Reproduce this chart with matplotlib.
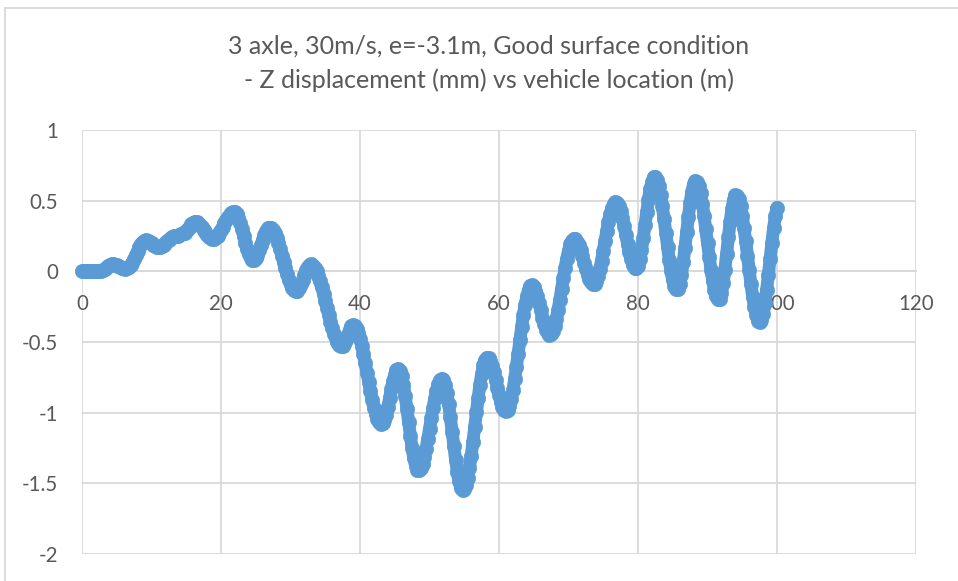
import numpy as np
import matplotlib
matplotlib.use("Agg")
import matplotlib.pyplot as plt
from matplotlib.lines import Line2D

# ---------------- data ----------------
title_line1 = "3 axle, 30m/s, e=-3.1m, Good surface condition"
title_line2 = "- Z displacement (mm) vs vehicle location (m)"

location_start_m = 0.0
location_step_m = 0.25

z_displacement_mm = [
    0.000, 0.000, 0.000, 0.000, 0.000, 0.000, 0.000, 0.000, 0.000, 0.000, 0.000,
    0.002, 0.008, 0.017, 0.027, 0.037, 0.045, 0.049,
    0.050, 0.048, 0.044, 0.039, 0.033, 0.027, 0.023, 0.020,
    0.021, 0.028, 0.042, 0.062, 0.087, 0.114, 0.142, 0.169, 0.191, 0.208, 0.218,
    0.220, 0.217, 0.209, 0.199, 0.189, 0.179, 0.172, 0.170,
    0.172, 0.178, 0.188, 0.200, 0.213, 0.225, 0.236, 0.245, 0.249,
    0.250, 0.253, 0.257, 0.262, 0.268, 0.274, 0.284, 0.300, 0.317, 0.333, 0.345, 0.350,
    0.348, 0.341, 0.328, 0.312, 0.294, 0.275, 0.258, 0.244, 0.234, 0.230,
    0.232, 0.240, 0.253, 0.270, 0.292, 0.316, 0.339, 0.362, 0.383, 0.400, 0.412, 0.419,
    0.419, 0.406, 0.380, 0.342, 0.299, 0.250, 0.201, 0.158, 0.120, 0.094, 0.081,
    0.082, 0.095, 0.119, 0.151, 0.187, 0.225, 0.259, 0.286, 0.304, 0.310,
    0.305, 0.291, 0.268, 0.237, 0.201, 0.158, 0.112, 0.067, 0.021, -0.022, -0.061, -0.093, -0.117, -0.133, -0.140,
    -0.136, -0.119, -0.093, -0.059, -0.024, 0.009, 0.033, 0.048,
    0.049, 0.041, 0.025, 0.001, -0.031, -0.069, -0.113, -0.160, -0.210, -0.260, -0.310, -0.358, -0.402, -0.442, -0.475, -0.501, -0.519, -0.528,
    -0.529, -0.513, -0.484, -0.448, -0.413, -0.389, -0.380,
    -0.386, -0.405, -0.436, -0.478, -0.528, -0.588, -0.650, -0.717, -0.783, -0.848, -0.909, -0.964, -1.009, -1.044, -1.067, -1.079,
    -1.076, -1.054, -1.014, -0.959, -0.898, -0.835, -0.777, -0.730, -0.700, -0.690,
    -0.703, -0.741, -0.802, -0.882, -0.972, -1.069, -1.164, -1.253, -1.324, -1.377, -1.405,
    -1.409, -1.393, -1.361, -1.315, -1.257, -1.188, -1.115, -1.040, -0.968, -0.900, -0.845, -0.799, -0.772, -0.760,
    -0.769, -0.803, -0.861, -0.942, -1.033, -1.134, -1.237, -1.334, -1.420, -1.484, -1.531, -1.549,
    -1.542, -1.512, -1.460, -1.391, -1.304, -1.206, -1.101, -0.996, -0.896, -0.804, -0.727, -0.665, -0.627, -0.610,
    -0.615, -0.635, -0.669, -0.715, -0.767, -0.822, -0.875, -0.922, -0.958, -0.982, -0.990,
    -0.980, -0.951, -0.903, -0.840, -0.764, -0.676, -0.582, -0.488, -0.397, -0.312, -0.237, -0.177, -0.132, -0.106,
    -0.100, -0.111, -0.137, -0.175, -0.223, -0.275, -0.327, -0.375, -0.413, -0.439, -0.450,
    -0.445, -0.423, -0.385, -0.335, -0.272, -0.201, -0.125, -0.050, 0.023, 0.090, 0.145, 0.190, 0.218, 0.230,
    0.226, 0.210, 0.183, 0.148, 0.106, 0.061, 0.018, -0.023, -0.055, -0.078, -0.089,
    -0.087, -0.068, -0.033, 0.014, 0.075, 0.143, 0.215, 0.284, 0.350, 0.405, 0.449, 0.477, 0.490,
    0.484, 0.463, 0.426, 0.376, 0.318, 0.255, 0.192, 0.134, 0.084, 0.047, 0.026,
    0.021, 0.040, 0.084, 0.151, 0.233, 0.326, 0.420, 0.508, 0.582, 0.635, 0.665,
    0.668, 0.647, 0.603, 0.539, 0.460, 0.368, 0.270, 0.172, 0.080, 0.001, -0.063, -0.107, -0.128,
    -0.124, -0.089, -0.025, 0.063, 0.166, 0.277, 0.387, 0.484, 0.564, 0.617, 0.639,
    0.632, 0.602, 0.551, 0.479, 0.394, 0.300, 0.200, 0.102, 0.010, -0.071, -0.132, -0.177, -0.198,
    -0.193, -0.155, -0.084, 0.012, 0.123, 0.240, 0.348, 0.439, 0.505, 0.537,
    0.536, 0.510, 0.462, 0.393, 0.307, 0.213, 0.111, 0.007, -0.092, -0.180, -0.254, -0.312, -0.348, -0.360,
    -0.345, -0.300, -0.227, -0.134, -0.027, 0.088, 0.199, 0.305, 0.388, 0.451,
]

x_ticks = [0, 20, 40, 60, 80, 100, 120]
x_tick_labels = ["0", "20", "40", "60", "80", "100", "120"]
y_ticks = [-2, -1.5, -1, -0.5, 0, 0.5, 1]
y_tick_labels = ["-2", "-1.5", "-1", "-0.5", "0", "0.5", "1"]

location_m = location_start_m + location_step_m * np.arange(len(z_displacement_mm))

# ---------------- style ----------------
plt.rcParams["font.family"] = ["Lato", "DejaVu Sans"]
TEXT = "#595959"
GRID = "#D9D9D9"
BLUE = "#5B9BD5"

W, H = 958, 581
fig = plt.figure(figsize=(W / 100, H / 100), dpi=100)
fig.patch.set_facecolor("white")

# outer chart border (top & left visible, chart cropped at right/bottom)
fig.add_artist(Line2D([5 / W, 1.0], [1 - 8 / H, 1 - 8 / H], color=GRID, lw=1.3))
fig.add_artist(Line2D([5 / W, 5 / W], [1 - 8 / H, 0.0], color=GRID, lw=1.3))

ax = fig.add_axes([82 / W, 1 - 554 / H, (916 - 82) / W, (554 - 130) / H])
ax.set_xlim(0, 120)
ax.set_ylim(-2, 1)

# dense overlapping markers form a continuous band: underlay + markers
ax.plot(location_m, z_displacement_mm, linestyle="-", lw=9.3, color=BLUE,
        solid_capstyle="round", solid_joinstyle="round", marker="none",
        zorder=3, clip_on=False)
ax.plot(location_m, z_displacement_mm, linestyle="none", marker="o",
        markersize=10.4, color=BLUE, markeredgecolor=BLUE, markeredgewidth=0.4,
        zorder=4, clip_on=False)

ax.set_xticks(x_ticks)
ax.set_xticklabels(x_tick_labels)
ax.set_yticks(y_ticks)
ax.set_yticklabels(y_tick_labels)
ax.grid(True, color=GRID, lw=1.3, zorder=0)
ax.set_axisbelow(True)
for s in ["top", "right", "left"]:
    ax.spines[s].set_visible(False)
ax.spines["bottom"].set_position(("data", 0))
ax.spines["bottom"].set_color(GRID)
ax.spines["bottom"].set_linewidth(1.3)
ax.tick_params(axis="x", length=0, pad=16.5, labelsize=14.8, labelcolor=TEXT)
ax.tick_params(axis="y", length=0, pad=17, labelsize=14.8, labelcolor=TEXT)
for lbl in ax.get_xticklabels() + ax.get_yticklabels():
    lbl.set_clip_on(False)

fig.text(489 / W, 1 - 46 / H, title_line1, ha="center", va="center",
         fontsize=18, color=TEXT)
fig.text(489 / W, 1 - 80 / H, title_line2, ha="center", va="center",
         fontsize=18, color=TEXT)

fig.savefig("out.png", dpi=100, facecolor="white")
